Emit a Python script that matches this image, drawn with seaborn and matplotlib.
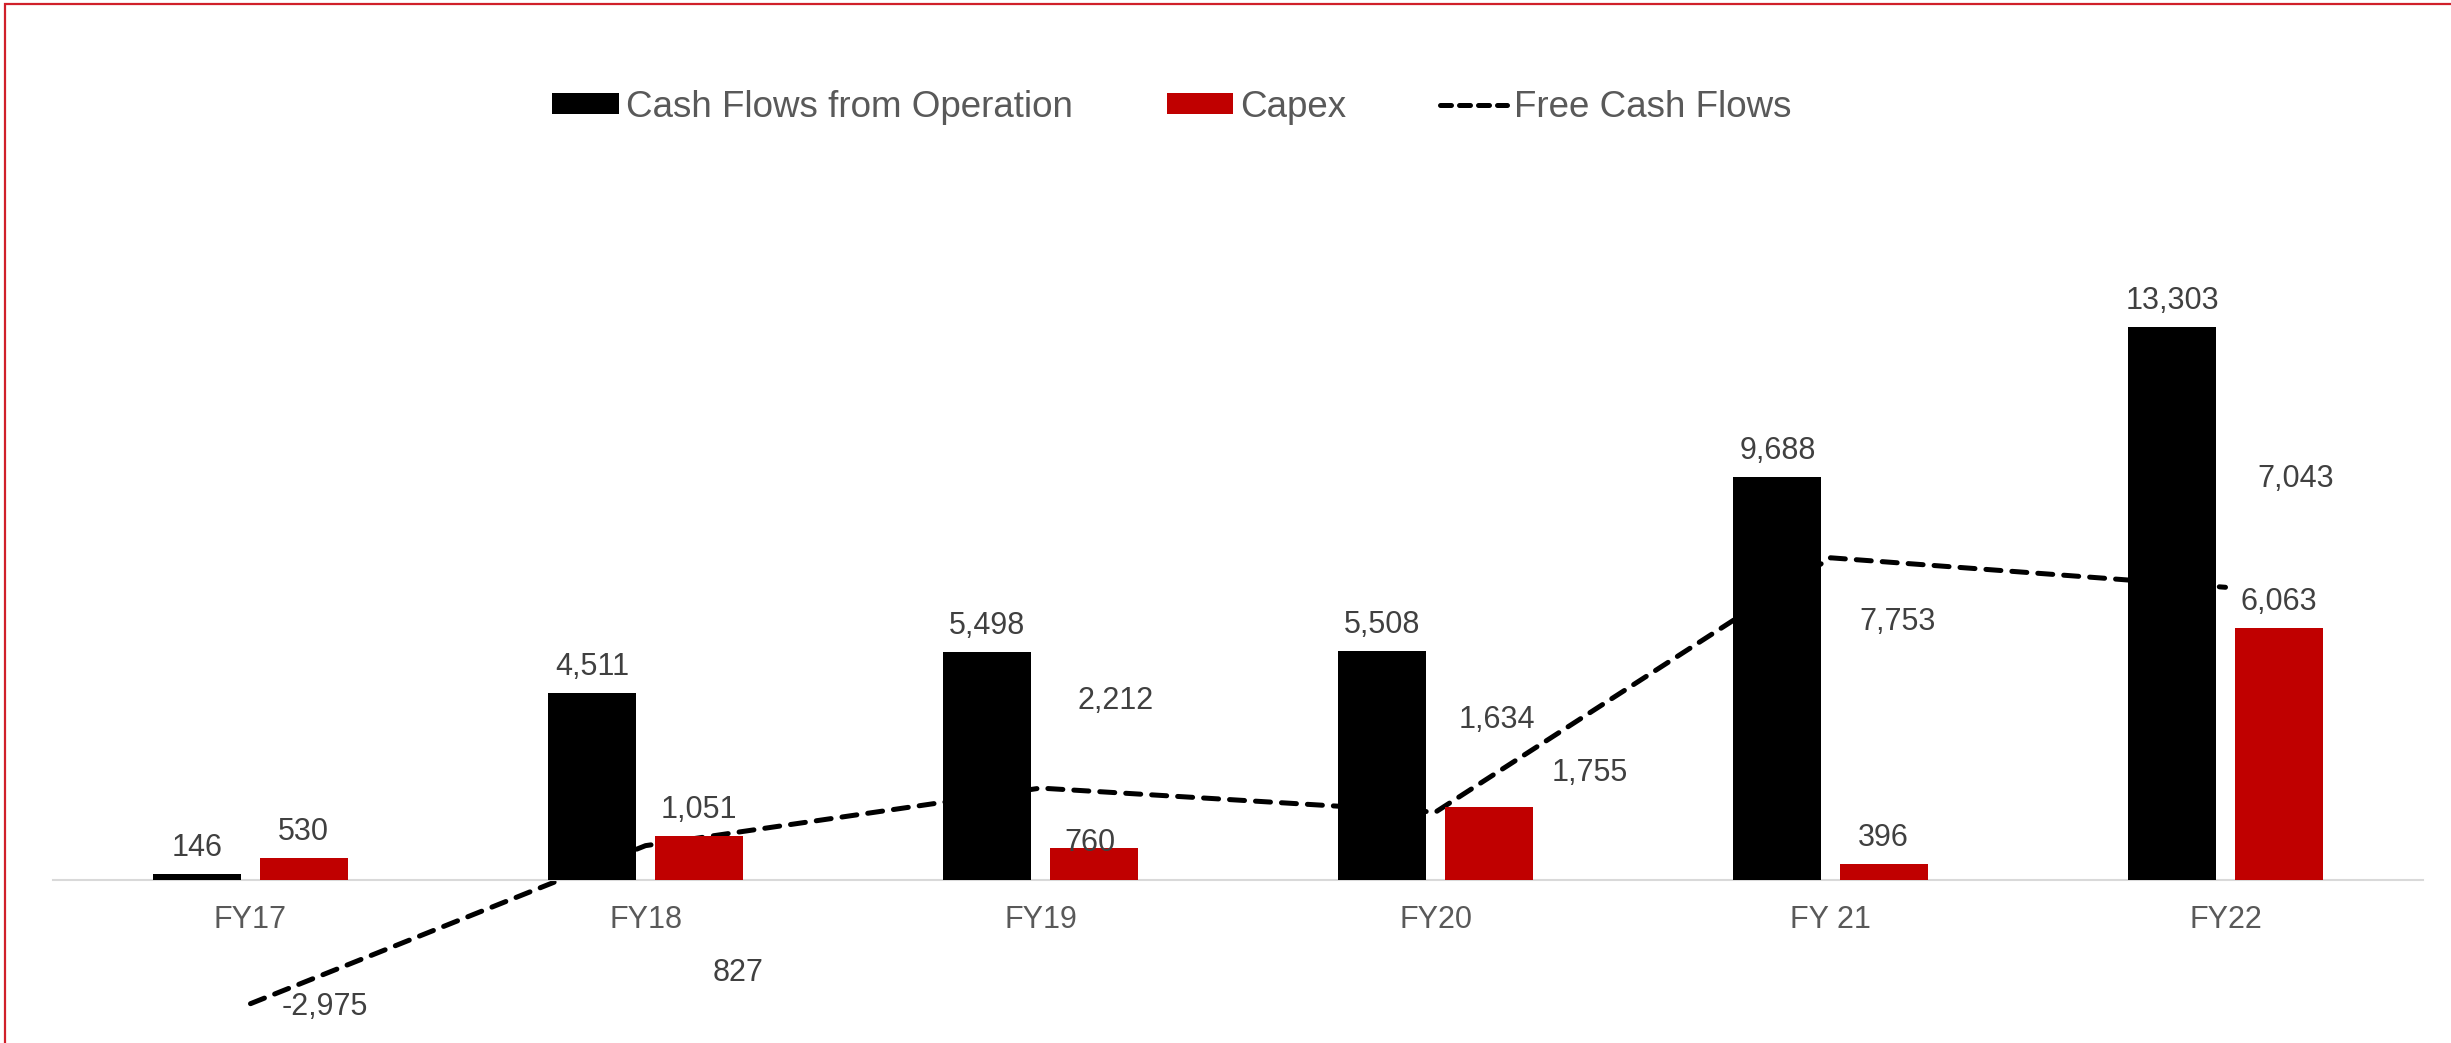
import matplotlib.pyplot as plt
import numpy as np
import pandas as pd
import seaborn as sns
from matplotlib.lines import Line2D
from matplotlib.patches import Patch, Rectangle

years = ["FY17", "FY18", "FY19", "FY20", "FY 21", "FY22"]
cash_from_ops = [146, 4511, 5498, 5508, 9688, 13303]
capex = [530, 1051, 760, 1755, 396, 6063]
free_cash_flow = [-2975, 827, 2212, 1634, 7753, 7043]

series_names = ["Cash Flows from Operation", "Capex", "Free Cash Flows"]
colors = {"Cash Flows from Operation": "#000000", "Capex": "#C00000"}

# label offsets in pixels (Excel put a few of these in odd places)
ops_offsets = [(0, 18)] * 6
capex_offsets = [(0, 18), (0, 18), (-4, -3), (101, 26), (0, 18), (0, 18)]
fcf_offsets = [(74, -11), (93, -135), (75, 79), (61, 84), (67, -72), (70, 100)]

sns.set_theme(style="white")
plt.rcParams["font.family"] = ["Liberation Sans", "DejaVu Sans"]

LABEL_COLOR = "#404040"
TICK_COLOR = "#595959"

df = pd.DataFrame(
    {
        "Year": years * 2,
        "Value": cash_from_ops + capex,
        "Series": [series_names[0]] * len(years) + [series_names[1]] * len(years),
    }
)

fig = plt.figure(figsize=(24.51, 10.43), dpi=100)
ax = fig.add_axes([53 / 2451, 0, 2370 / 2451, 828 / 1043])
ax.set_facecolor("none")

sns.barplot(
    data=df, x="Year", y="Value", hue="Series", order=years,
    hue_order=series_names[:2], palette=colors, saturation=1,
    width=0.538, gap=0.171, linewidth=0, legend=False, ax=ax,
)

sns.lineplot(
    x=np.arange(len(years)), y=free_cash_flow, ax=ax, color="black",
    linewidth=3.6, linestyle=(0, (3, 2.2)), dash_capstyle="round", zorder=0.5,
)

for container, values, offsets in zip(ax.containers, [cash_from_ops, capex], [ops_offsets, capex_offsets]):
    for bar, val, off in zip(container, values, offsets):
        ax.annotate(
            f"{val:,}", (bar.get_x() + bar.get_width() / 2, bar.get_height()),
            xytext=off, textcoords="offset pixels", ha="center", va="baseline",
            fontsize=22, color=LABEL_COLOR,
        )

for i, (val, off) in enumerate(zip(free_cash_flow, fcf_offsets)):
    ax.annotate(
        f"{val:,}", (i, val), xytext=off, textcoords="offset pixels",
        ha="center", va="baseline", fontsize=22, color=LABEL_COLOR,
    )

ax.set_xlim(-0.5, len(years) - 0.5)
ax.set_ylim(-3921, 16000)
ax.set_xticks(range(len(years)))
ax.set_xticklabels(years)
ax.set_yticks([])
ax.set_xlabel("")
ax.set_ylabel("")
ax.tick_params(axis="x", length=0, pad=18, labelsize=22, labelcolor=TICK_COLOR)
for side in ["top", "left", "right"]:
    ax.spines[side].set_visible(False)
ax.spines["bottom"].set_position(("data", 0))
ax.spines["bottom"].set_color("#D9D9D9")
ax.spines["bottom"].set_linewidth(1.5)
ax.spines["bottom"].set_zorder(0.8)

handles = [
    Patch(facecolor=colors["Cash Flows from Operation"], edgecolor="none"),
    Patch(facecolor=colors["Capex"], edgecolor="none"),
    Line2D([0], [0], color="black", linewidth=3.6, linestyle=(0, (2.2, 1.6)), dash_capstyle="round"),
]
fig.legend(
    handles, series_names, loc="center", bbox_to_anchor=(1172 / 2451, 0.897),
    ncol=3, frameon=False, fontsize=26.5, labelcolor=TICK_COLOR,
    handlelength=1.8, handleheight=0.5, handletextpad=0.2, columnspacing=2.55,
)

# red frame around the chart (top and left edges visible)
fig.patches.append(
    Rectangle((5 / 2451, -0.1), 1.2, 1.1 - 4 / 1043, transform=fig.transFigure,
              fill=False, edgecolor="#D0202A", linewidth=1.6)
)

fig.savefig("out.png", dpi=100)
